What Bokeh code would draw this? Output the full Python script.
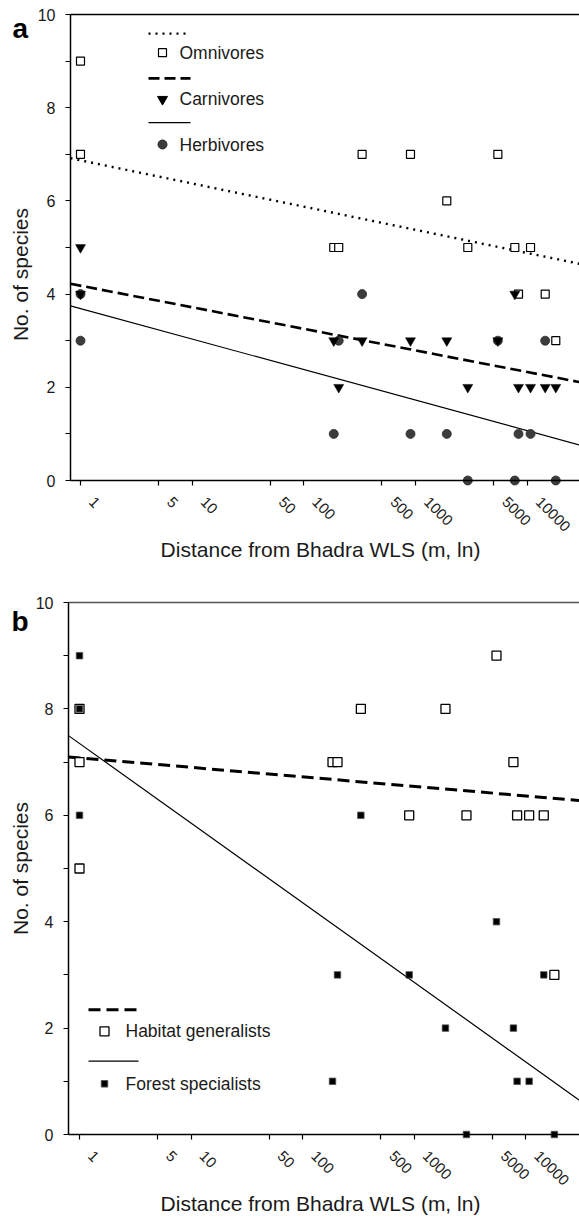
import math
import numpy as np
from bokeh.plotting import figure
from bokeh.layouts import column
from bokeh.models import FixedTicker, Range1d, Label, LabelSet, ColumnDataSource
from bokeh.core.properties import value
from bokeh.embed import file_html
from bokeh.resources import INLINE

# ---------------- data ----------------
# panel a: sites (distance from Bhadra WLS, m) and species counts per guild
dist_a = [1, 1, 185, 205, 332, 900, 1902, 2933, 5450, 7730, 8340, 10690, 14460, 17990]
omnivores = [9, 7, 5, 5, 7, 7, 6, 5, 7, 5, 4, 5, 4, 3]
carnivores = [5, 4, 3, 2, 3, 3, 3, 2, 3, 4, 2, 2, 2, 2]
herbivores = [4, 3, 1, 3, 4, 1, 1, 0, 3, 0, 1, 1, 3, 0]

# panel b
dist_b = [1, 1, 1, 185, 205, 332, 900, 1902, 2933, 5450, 7730, 8340, 10690, 14460, 17990]
generalists = [8, 7, 5, 7, 7, 8, 6, 8, 6, 9, 7, 6, 6, 6, 3]
specialists = [9, 8, 6, 1, 3, 6, 3, 2, 0, 4, 2, 1, 1, 3, 0]

# fitted trend lines: y = intercept + slope * log10(distance)
fit_omnivores = (6.87, -0.497)
fit_carnivores = (4.18, -0.463)
fit_herbivores = (3.69, -0.655)
fit_generalists = (7.08, -0.179)
fit_specialists = (7.35, -1.497)

x_ticks = [1, 5, 10, 50, 100, 500, 1000, 5000, 10000]
x_tick_labels = ["1", "5", "10", "50", "100", "500", "1000", "5000", "10000"]
y_major = [0, 2, 4, 6, 8, 10]
y_major_labels = ["0", "2", "4", "6", "8", "10"]
y_minor = [1, 3, 5, 7, 9]

FONT = "Liberation Sans"
TXT = "#1a1a1a"
W = 579


def fit_line(fit, x0, x1):
    a, b = fit
    xs = np.array([x0, x1], dtype=float)
    return xs, a + b * np.log10(xs)


def build(height, top_page, px_one, px_decade, py_zero, px_unit, ax_left_px, border_color):
    """Panel whose frame fills the whole figure; the scale mapping is given in page pixels."""
    page_left, page_right = 0, W

    def x_of(px):
        return 10 ** ((px - px_one) / px_decade)

    x_start, x_end, x_origin = x_of(page_left), x_of(page_right), x_of(ax_left_px)
    y_end = (py_zero - top_page) / px_unit
    y_start = (py_zero - (top_page + height)) / px_unit

    p = figure(x_axis_type="log", x_range=Range1d(x_start, x_end), y_range=Range1d(y_start, y_end),
               width=W, height=height, x_axis_location="above", y_axis_location="right",
               min_border=0, min_border_left=0, min_border_right=0, min_border_top=0, min_border_bottom=0,
               toolbar_location=None, output_backend="svg")
    p.xgrid.visible = False
    p.ygrid.visible = False
    p.outline_line_color = None
    p.background_fill_color = "white"
    p.border_fill_color = "white"

    xa = p.xaxis[0]
    xa.ticker = FixedTicker(ticks=x_ticks, minor_ticks=[])
    xa.fixed_location = 0
    xa.bounds = (x_origin, x_end)
    xa.axis_line_color = "black"
    xa.axis_line_width = 1.5
    xa.major_tick_line_color = "black"
    xa.major_tick_line_width = 1.2
    xa.major_tick_out = 0
    xa.major_tick_in = 5
    xa.minor_tick_line_color = None
    xa.major_label_text_font_size = "0px"
    xa.major_label_text_color = None
    xa.major_label_standoff = 0

    ya = p.yaxis[0]
    ya.ticker = FixedTicker(ticks=y_major, minor_ticks=y_minor)
    ya.fixed_location = x_origin
    ya.bounds = (0, 10)
    ya.axis_line_color = "black"
    ya.axis_line_width = 1.5
    ya.major_tick_line_color = "black"
    ya.major_tick_line_width = 1.2
    ya.major_tick_out = 0
    ya.major_tick_in = 5
    ya.minor_tick_line_color = "black"
    ya.minor_tick_line_width = 1.2
    ya.minor_tick_out = 0
    ya.minor_tick_in = 5
    ya.major_label_text_font_size = "0px"
    ya.major_label_text_color = None
    ya.major_label_standoff = 0

    # top frame border
    p.line([x_origin, x_end], [10, 10], line_color=border_color, line_width=1.6)

    # tick labels
    ysrc = ColumnDataSource(dict(x=[x_origin] * len(y_major), y=y_major, text=y_major_labels))
    p.add_layout(LabelSet(x="x", y="y", text="text", source=ysrc, x_offset=-15,
                          text_align="right", text_baseline="middle",
                          text_font=value(FONT), text_font_size="16px", text_color=TXT))
    xsrc = ColumnDataSource(dict(x=x_ticks, y=[0] * len(x_ticks), text=x_tick_labels))
    p.add_layout(LabelSet(x="x", y="y", text="text", source=xsrc, x_offset=11, y_offset=-19,
                          angle=-math.pi / 4, text_align="left", text_baseline="middle",
                          text_font=value(FONT), text_font_size="15px", text_color=TXT))
    # x-axis title
    p.add_layout(Label(x=x_of(320), y=0, y_offset=-69, text="Distance from Bhadra WLS (m, ln)",
                       text_align="center", text_baseline="middle", text_font=FONT,
                       text_font_size="21px", text_color=TXT))
    return p, x_origin, x_end, x_of


# ---------------- panel a ----------------
pa, xa0, xa1, xa_of = build(588, 0, 80, 111.7, 480, 46.6, 70, "black")

x, y = fit_line(fit_omnivores, xa0, xa1)
pa.line(x, y, line_color="black", line_width=2.4, line_dash="2 5")
x, y = fit_line(fit_carnivores, xa0, xa1)
pa.line(x, y, line_color="black", line_width=2.6, line_dash="11 5")
x, y = fit_line(fit_herbivores, xa0, xa1)
pa.line(x, y, line_color="black", line_width=1.2)

pa.scatter(dist_a, omnivores, marker="square", size=8, fill_color="white", line_color="black", line_width=1.2)
pa.scatter(dist_a, herbivores, marker="circle", size=9, fill_color="#3c3c3c", line_color="#2a2a2a", line_width=0.8)
pa.scatter(dist_a, carnivores, marker="inverted_triangle", size=10, fill_color="black", line_color="black", line_width=0.5)

# legend (layout positions)
la_line = [xa_of(148), xa_of(190)]
la_mark = [xa_of(162)]
la_text = [xa_of(179)]
pa.line(la_line, [9.59, 9.59], line_color="black", line_width=2.4, line_dash="2 5")
pa.scatter(la_mark, [9.18], marker="square", size=8, fill_color="white", line_color="black", line_width=1.2)
pa.text(la_text, [9.18], text=["Omnivores"], text_font=value(FONT), text_font_size="17.5px",
        text_baseline="middle", text_color=TXT)
pa.line(la_line, [8.63, 8.63], line_color="black", line_width=2.6, line_dash="11 5")
pa.scatter(la_mark, [8.18], marker="inverted_triangle", size=10, fill_color="black", line_color="black")
pa.text(la_text, [8.18], text=["Carnivores"], text_font=value(FONT), text_font_size="17.5px",
        text_baseline="middle", text_color=TXT)
pa.line(la_line, [7.68, 7.68], line_color="black", line_width=1.2)
pa.scatter(la_mark, [7.21], marker="circle", size=9, fill_color="#3c3c3c", line_color="#2a2a2a")
pa.text(la_text, [7.21], text=["Herbivores"], text_font=value(FONT), text_font_size="17.5px",
        text_baseline="middle", text_color=TXT)

pa.add_layout(Label(x=xa0, y=4.42, x_offset=-50, text="No. of species", angle=math.pi / 2,
                    text_align="center", text_baseline="middle", text_font=FONT,
                    text_font_size="21px", text_color=TXT))
pa.add_layout(Label(x=xa0, y=10, x_offset=-58, y_offset=-14, text="a", text_font=FONT,
                    text_font_style="bold", text_font_size="28px", text_baseline="alphabetic",
                    text_align="left", text_color="black"))

# ---------------- panel b ----------------
pb, xb0, xb1, xb_of = build(630, 588, 79, 111.6, 1134, 53.2, 68, "#555555")

x, y = fit_line(fit_generalists, xb0, xb1)
pb.line(x, y, line_color="black", line_width=3, line_dash="12 6")
x, y = fit_line(fit_specialists, xb0, xb1)
pb.line(x, y, line_color="black", line_width=1.2)

pb.scatter(dist_b, generalists, marker="square", size=9, fill_color="white", line_color="black", line_width=1.3)
pb.scatter(dist_b, specialists, marker="square", size=6.5, fill_color="black", line_color="#555555", line_width=0.8)

lb_mark = [xb_of(104)]
lb_text = [xb_of(125)]
pb.line([xb_of(88), xb_of(136)], [2.344, 2.344], line_color="black", line_width=3, line_dash="12 6")
pb.scatter(lb_mark, [1.94], marker="square", size=9, fill_color="white", line_color="black", line_width=1.3)
pb.text(lb_text, [1.94], text=["Habitat generalists"], text_font=value(FONT), text_font_size="17.5px",
        text_baseline="middle", text_color=TXT)
pb.line([xb_of(88), xb_of(138)], [1.378, 1.378], line_color="black", line_width=1.2)
pb.scatter(lb_mark, [0.953], marker="square", size=6.5, fill_color="black", line_color="#555555")
pb.text(lb_text, [0.953], text=["Forest specialists"], text_font=value(FONT), text_font_size="17.5px",
        text_baseline="middle", text_color=TXT)

pb.add_layout(Label(x=xb0, y=5, x_offset=-48, text="No. of species", angle=math.pi / 2,
                    text_align="center", text_baseline="middle", text_font=FONT,
                    text_font_size="21px", text_color=TXT))
pb.add_layout(Label(x=xb0, y=10, x_offset=-57, y_offset=-19, text="b", text_font=FONT,
                    text_font_style="bold", text_font_size="28px", text_baseline="alphabetic",
                    text_align="left", text_color="black"))

layout = column(pa, pb, spacing=0)
open("out.html", "w").write(file_html(layout, INLINE))
